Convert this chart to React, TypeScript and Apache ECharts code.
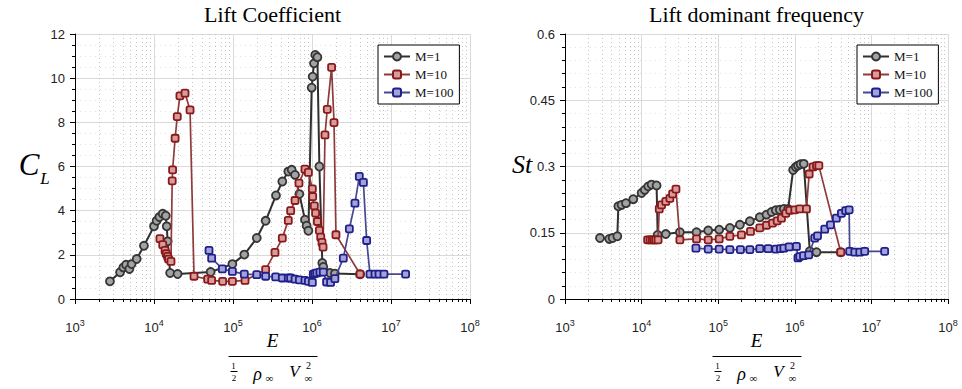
import React, { useEffect, useRef } from 'react';
import * as echarts from 'echarts';

// ---- data: E / (1/2 rho V^2) against lift coefficient and Strouhal number ----
const SERIES_NAMES = ['M=1', 'M=10', 'M=100'];

const liftM1: [number, number][] = [
  [2770, 0.8], [3720, 1.21], [4090, 1.43], [4430, 1.55], [4880, 1.36], [5210, 1.58], [6040, 1.81],
  [7460, 2.41], [10000, 3.29], [10800, 3.54], [11700, 3.71], [12900, 3.86], [14100, 3.77],
  [14500, 3.29], [14900, 2.61], [16000, 1.18], [19900, 1.13], [52100, 1.22], [98200, 1.58],
  [139000, 2.01], [200000, 2.76], [259000, 3.54], [350000, 4.69], [421000, 5.32], [501000, 5.77],
  [553000, 5.85], [610000, 5.62], [692000, 4.75], [815000, 3.59], [855000, 3.32], [900000, 3.09],
  [991000, 9.57], [1020000, 10.07], [1060000, 10.67], [1100000, 11.05], [1170000, 10.95],
  [1240000, 6.0], [1350000, 1.63], [1390000, 1.45], [1690000, 1.18], [1950000, 1.15], [4060000, 1.12],
];

const liftM10: [number, number][] = [
  [11900, 2.73], [12900, 2.46], [13800, 2.2], [14300, 2.05], [14900, 1.93], [15300, 1.81],
  [16400, 1.7], [17000, 5.35], [17200, 5.85], [18500, 7.28], [19700, 8.26], [21300, 9.2],
  [24700, 9.32], [28600, 8.56], [32100, 1.03], [47800, 0.9], [53700, 0.84], [74000, 0.8],
  [98200, 0.8], [142000, 0.84], [259000, 1.33], [340000, 2.11], [421000, 2.76], [501000, 3.56],
  [537000, 4.0], [610000, 4.46], [684000, 5.25], [815000, 5.88], [900000, 5.73], [1010000, 4.99],
  [1020000, 4.64], [1070000, 4.22], [1110000, 3.89], [1170000, 3.51], [1240000, 3.11],
  [1290000, 2.8], [1340000, 2.56], [1380000, 2.35], [1460000, 7.43], [1560000, 8.59],
  [1770000, 10.49], [1900000, 7.99], [2010000, 2.91], [4060000, 1.13],
];

const liftM100: [number, number][] = [
  [49700, 2.2], [53700, 1.85], [73300, 1.36], [98200, 1.25], [139000, 1.13], [200000, 1.1],
  [259000, 1.03], [347000, 1.0], [421000, 0.95], [501000, 0.95], [537000, 0.95], [610000, 0.9],
  [692000, 0.87], [815000, 0.84], [900000, 0.8], [1010000, 0.75], [1040000, 1.13], [1090000, 1.15],
  [1150000, 1.18], [1260000, 1.22], [1390000, 1.22], [1530000, 0.77], [1720000, 0.75],
  [1950000, 0.92], [2490000, 1.85], [2970000, 3.18], [3500000, 4.34], [3970000, 5.55],
  [4470000, 5.28], [4920000, 2.65], [5420000, 1.13], [6270000, 1.13], [7050000, 1.13],
  [8150000, 1.13], [15300000, 1.13],
];

const stM1: [number, number][] = [
  [2860, 0.138], [3780, 0.136], [4190, 0.138], [4820, 0.142], [4970, 0.21], [5480, 0.213],
  [6250, 0.217], [7780, 0.226], [10000, 0.24], [11000, 0.247], [12200, 0.255], [13500, 0.259],
  [15700, 0.257], [16200, 0.145], [20700, 0.147], [31600, 0.151], [52100, 0.151], [74100, 0.155],
  [103000, 0.157], [142000, 0.161], [192000, 0.168], [259000, 0.176], [349000, 0.185],
  [427000, 0.191], [497000, 0.197], [565000, 0.201], [637000, 0.202], [719000, 0.204],
  [818000, 0.204], [951000, 0.292], [1030000, 0.299], [1100000, 0.302], [1190000, 0.305],
  [1310000, 0.306], [1570000, 0.108], [1920000, 0.106], [3980000, 0.106],
];

const stM10: [number, number][] = [
  [12000, 0.134], [12900, 0.134], [13800, 0.134], [14500, 0.134], [15300, 0.134], [16400, 0.134],
  [17000, 0.204], [18200, 0.213], [20700, 0.221], [23400, 0.228], [25400, 0.238], [28100, 0.249],
  [31600, 0.134], [52100, 0.136], [74100, 0.134], [103000, 0.136], [142000, 0.142],
  [201000, 0.145], [264000, 0.153], [349000, 0.161], [427000, 0.167], [512000, 0.172],
  [589000, 0.177], [670000, 0.183], [764000, 0.194], [861000, 0.201], [1000000, 0.202],
  [1160000, 0.204], [1420000, 0.204], [1540000, 0.283], [1730000, 0.299], [1920000, 0.302],
  [2060000, 0.302], [3980000, 0.106],
];

const stM100: [number, number][] = [
  [51200, 0.115], [74100, 0.113], [103000, 0.113], [142000, 0.112], [195000, 0.112],
  [259000, 0.112], [349000, 0.114], [449000, 0.114], [565000, 0.113], [650000, 0.114],
  [719000, 0.115], [843000, 0.118], [1050000, 0.119], [1100000, 0.093], [1160000, 0.096],
  [1300000, 0.098], [1520000, 0.1], [1820000, 0.138], [1980000, 0.143], [2460000, 0.158],
  [2920000, 0.168], [3490000, 0.183], [4060000, 0.194], [4620000, 0.2], [5120000, 0.202],
  [5210000, 0.108], [6070000, 0.106], [7050000, 0.106], [8180000, 0.108], [14900000, 0.108],
];

const TITLES = ['Lift Coefficient', 'Lift dominant frequency'];

// ---- axes ----
const X_MIN = 1e3;
const X_MAX = 1e8;
const CL_MAX = 12;
const CL_STEP = 2;
const ST_MAX = 0.6;
const ST_STEP = 0.15;

// positions 2..9 within each decade, for the minor grid and minor ticks
const minorDecadeTicks: number[] = [];
for (let k = 3; k < 8; k++) {
  for (let m = 2; m <= 9; m++) minorDecadeTicks.push(m * Math.pow(10, k));
}

const SERIF = '"Liberation Serif", "Times New Roman", serif';
const SANS = '"Liberation Sans", Arial, sans-serif';

const STYLES = [
  { symbol: 'circle', size: 8, line: '#2f2f2f', lineWidth: 2, fill: '#a3a3a3', border: '#353535' },
  { symbol: 'roundRect', size: 7, line: '#8e3b3b', lineWidth: 1.7, fill: '#d99c9c', border: '#8a1a1a' },
  { symbol: 'roundRect', size: 7, line: '#474793', lineWidth: 1.7, fill: '#a3a3da', border: '#20208a' },
];

const GRIDS = [
  { left: 75, top: 34, width: 395, height: 265 },
  { left: 565, top: 34, width: 383, height: 265 },
];

function xAxis(gridIndex: number) {
  return {
    type: 'log',
    logBase: 10,
    gridIndex,
    min: X_MIN,
    max: X_MAX,
    axisLine: { show: true, onZero: false, lineStyle: { color: '#000', width: 1 } },
    axisTick: { show: true, length: 5, lineStyle: { color: '#000' } },
    axisLabel: {
      margin: 19,
      color: '#222',
      formatter: (v: number) => `{b|10}{sup|${Math.round(Math.log10(v))}}`,
      rich: {
        b: { fontSize: 13, fontFamily: SANS, color: '#222', lineHeight: 18 },
        sup: { fontSize: 9, fontFamily: SANS, color: '#222', lineHeight: 9, verticalAlign: 'top' },
      },
    },
    splitLine: { show: true, lineStyle: { color: '#dadada', width: 1 } },
  };
}

function yAxis(gridIndex: number, max: number, interval: number, minorSplit: number) {
  return {
    type: 'value',
    gridIndex,
    min: 0,
    max,
    interval,
    axisLine: { show: true, onZero: false, lineStyle: { color: '#000', width: 1 } },
    axisTick: { show: true, length: 5, lineStyle: { color: '#000' } },
    minorTick: { show: true, splitNumber: minorSplit, length: 3, lineStyle: { color: '#000' } },
    axisLabel: { margin: 10, color: '#222', fontSize: 13, fontFamily: SANS },
    splitLine: { show: true, lineStyle: { color: '#dadada', width: 1 } },
    minorSplitLine: { show: true, lineStyle: { color: '#e2e2e2', width: 1, type: [1, 4] } },
  };
}

// dotted vertical minor grid plus the short minor ticks on the log axis
function minorLogGrid(gridIndex: number, yMax: number) {
  return {
    type: 'custom',
    xAxisIndex: gridIndex,
    yAxisIndex: gridIndex,
    silent: true,
    clip: false,
    z: 1,
    data: minorDecadeTicks.map((v) => [v, 0]),
    encode: { x: 0, y: 1 },
    renderItem: (_params: any, api: any) => {
      const x = api.value(0);
      const bottom = api.coord([x, 0]);
      const top = api.coord([x, yMax]);
      const px = Math.round(bottom[0]) + 0.5;
      return {
        type: 'group',
        children: [
          {
            type: 'line',
            shape: { x1: px, y1: bottom[1], x2: px, y2: top[1] },
            style: { stroke: '#c4c4c4', lineWidth: 1, lineDash: [1, 3] },
          },
          {
            type: 'line',
            shape: { x1: px, y1: bottom[1], x2: px, y2: bottom[1] + 3 },
            style: { stroke: '#000', lineWidth: 1 },
          },
        ],
      };
    },
  };
}

function lineSeries(name: string, data: [number, number][], idx: number, gridIndex: number) {
  const s = STYLES[idx];
  return {
    type: 'line',
    name,
    data,
    xAxisIndex: gridIndex,
    yAxisIndex: gridIndex,
    symbol: s.symbol,
    symbolSize: s.size,
    showSymbol: true,
    showAllSymbol: true,
    lineStyle: { color: s.line, width: s.lineWidth },
    itemStyle: { color: s.fill, borderColor: s.border, borderWidth: 1.8 },
    emphasis: { disabled: true },
    z: 3 + idx,
  };
}

function legend(left: number) {
  return {
    data: SERIES_NAMES,
    left,
    top: 45,
    orient: 'vertical',
    itemWidth: 26,
    itemHeight: 10,
    itemGap: 5,
    padding: [5, 6, 5, 5],
    borderColor: '#000',
    borderWidth: 1,
    backgroundColor: '#fff',
    selectedMode: false,
    textStyle: { fontFamily: SERIF, fontSize: 13, color: '#111' },
  };
}

function text(x: number, y: number, t: string, size: number, italic = false, extra: any = {}) {
  return {
    type: 'text',
    x,
    y,
    silent: true,
    style: {
      text: t,
      fontSize: size,
      fontFamily: SERIF,
      fontStyle: italic ? 'italic' : 'normal',
      fill: '#000',
      align: 'center',
      verticalAlign: 'middle',
      ...extra,
    },
  };
}

function hline(x1: number, x2: number, y: number) {
  return { type: 'line', silent: true, shape: { x1, y1: y, x2, y2: y }, style: { stroke: '#000', lineWidth: 1 } };
}

// E / (1/2 rho_inf V_inf^2) written under an axis centred at cx
function fractionLabel(cx: number) {
  return [
    text(cx, 340, 'E', 19, true),
    hline(cx - 44, cx + 45, 356.5),
    text(cx - 39, 366, '1', 9),
    hline(cx - 42, cx - 35, 371.5),
    text(cx - 38.5, 378, '2', 9),
    text(cx - 15, 374, 'ρ', 18, true),
    text(cx - 3, 378, '∞', 11),
    text(cx + 22, 371, 'V', 17, true),
    text(cx + 36, 365, '2', 10),
    text(cx + 36, 377.5, '∞', 11),
  ];
}

function buildOption() {
  const g0c = GRIDS[0].left + GRIDS[0].width / 2;
  const g1c = GRIDS[1].left + GRIDS[1].width / 2;
  return {
    animation: false,
    backgroundColor: '#fff',
    grid: GRIDS.map((g) => ({ ...g, containLabel: false })),
    xAxis: [xAxis(0), xAxis(1)],
    yAxis: [yAxis(0, CL_MAX, CL_STEP, 4), yAxis(1, ST_MAX, ST_STEP, 5)],
    legend: [legend(378), legend(857)],
    series: [
      minorLogGrid(0, CL_MAX),
      minorLogGrid(1, ST_MAX),
      lineSeries(SERIES_NAMES[0], liftM1, 0, 0),
      lineSeries(SERIES_NAMES[1], liftM10, 1, 0),
      lineSeries(SERIES_NAMES[2], liftM100, 2, 0),
      lineSeries(SERIES_NAMES[0], stM1, 0, 1),
      lineSeries(SERIES_NAMES[1], stM10, 1, 1),
      lineSeries(SERIES_NAMES[2], stM100, 2, 1),
    ],
    graphic: [
      text(g0c, 14, TITLES[0], 22),
      text(g1c, 14, TITLES[1], 22),
      // y-axis names
      text(29, 164, 'C', 31, true),
      text(45, 178, 'L', 17, true),
      text(522, 164, 'St', 26, true),
      ...fractionLabel(g0c),
      ...fractionLabel(g1c),
    ],
  };
}

export default function App() {
  const ref = useRef<HTMLDivElement>(null);
  useEffect(() => {
    if (!ref.current) return;
    const chart = echarts.init(ref.current, null, { renderer: 'svg' });
    chart.setOption(buildOption() as any);
    return () => chart.dispose();
  }, []);
  return (
    <div
      ref={ref}
      style={{ position: 'fixed', left: 0, top: 0, width: 962, height: 389, background: '#fff' }}
    />
  );
}
